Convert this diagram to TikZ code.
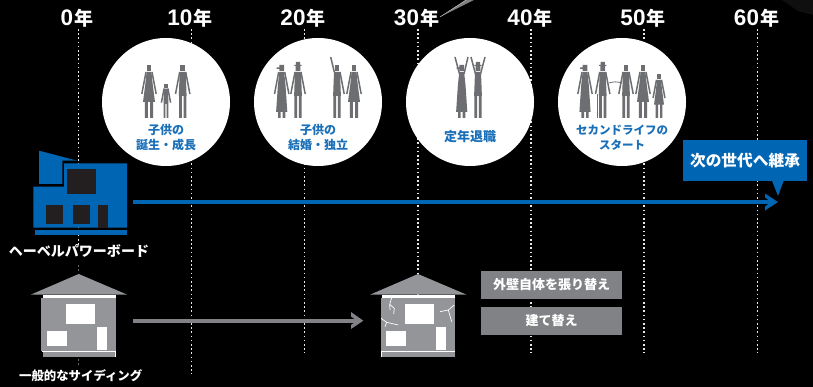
\documentclass[tikz,border=0pt]{standalone}
\usepackage{fontspec}
\setmainfont{Liberation Sans}
\newfontfamily\cjk{Noto Sans CJK JP}
\newfontfamily\lat{Liberation Sans}
\definecolor{figgray}{HTML}{6D6E71}
\definecolor{hblue}{HTML}{0066B3}
\definecolor{capblue}{HTML}{1A70B8}
\definecolor{boxgray}{HTML}{808285}
\definecolor{housegray}{HTML}{939598}
\definecolor{winddark}{HTML}{231F20}
\definecolor{dotwhite}{HTML}{E8E8E8}
\tikzset{
  yearlbl/.style={text=white,inner sep=0pt,anchor=center},
  timeline/.style={draw=dotwhite,line width=1.6pt,dash pattern=on 1.6pt off 2.6pt},
  lifecircle/.style={circle,fill=white,draw=none,minimum size=128pt,inner sep=0pt},
  caption/.style={text=capblue,inner sep=0pt,align=center,font=\cjk\bfseries\fontsize{12}{15.5}\selectfont},
  whitelbl/.style={text=white,inner sep=0pt,align=center,font=\cjk\bfseries\fontsize{13}{15}\selectfont},
  armline/.style={draw=figgray,line width=1.5pt},
  thinline/.style={draw=figgray,line width=0.8pt},
  crack/.style={draw=white,line width=0.7pt},
  pichead/.pic={\fill[figgray](-2.4,-53)rectangle(2.4,-47);},
  pichat/.pic={\fill[figgray](-3.6,-53)rectangle(3.6,-52)(-2.2,-56)rectangle(2.2,-53)(-2.4,-52)rectangle(2.4,-47);},
  picbrim/.pic={\fill[figgray](-2.4,-53)rectangle(2.4,-47)(-5,-50.5)rectangle(-2,-49);},
  picmale/.pic={\fill[figgray](-3,-46)--(3,-46)--(3.9,-22)--(-3.9,-22)--cycle
     (-3.6,-22)rectangle(-0.8,0)(0.8,-22)rectangle(3.6,0);},
  picfemale/.pic={\fill[figgray](-2.4,-46)--(2.4,-46)--(3.8,-33)--(6,-16)--(-6,-16)--(-3.8,-33)--cycle
     (-4.1,-16)rectangle(-1.2,0)(1.2,-16)rectangle(4.1,0);},
  piclongdress/.pic={\fill[figgray](-2.4,-46)--(2.4,-46)--(3.8,-33)--(5.6,-6)--(-5.6,-6)--(-3.8,-33)--cycle
     (-3.6,-6)rectangle(-1,0)(1,-6)rectangle(3.6,0);},
  picarms/.pic={\draw[armline](-3,-46)--(-7.2,-24)(3,-46)--(7.2,-24);},
}
\begin{document}
\begin{tikzpicture}[x=1pt,y=-1pt]
\useasboundingbox (0,0) rectangle (813,387);
\fill[black] (0,0) rectangle (813,387);
% faint texture top right and wedge
\fill[black!94!white] (782,0)--(813,0)--(813,15)--(798,11)--cycle;
\fill[boxgray] (440,17)--(466,0)--(474,0)--cycle;
\draw[black!25!white,line width=0.5pt] (440,17)--(466,0);
% timelines
\foreach \nm/\x/\yend in {t0/78.5/246,t10/191.5/374,t20/304.5/353,t30/418/353,t40/531/353,t50/644/353,t60/757.5/353}{
  \coordinate (\nm a) at (\x,29);
  \coordinate (\nm b) at (\x,\yend);
  \draw[timeline] (\nm a)--(\nm b);
}
\coordinate (t0c) at (78.5,265); \coordinate (t0d) at (78.5,272);
\coordinate (t0e) at (78.5,359); \coordinate (t0f) at (78.5,366);
\draw[timeline,draw=black!60!white] (t0c)--(t0d) (t0e)--(t0f);
% year labels
\foreach \nm/\x/\lab in {y0/77/0,y10/190/10,y20/303/20,y30/416.5/30,y40/530/40,y50/643/50,y60/756.5/60}{
  \node[yearlbl] (\nm) at (\x,18) {\lat\bfseries\fontsize{22.5}{22}\selectfont\lab\hspace{1pt}\cjk\bfseries\fontsize{19}{19}\selectfont 年};
}
% circles
\node[lifecircle] (c1) at (166,102) {};
\node[lifecircle] (c2) at (318,102) {};
\node[lifecircle] (c3) at (470,102) {};
\node[lifecircle] (c4) at (622,102) {};
% circle 1 figures
\pic at (149,118) {pichead}; \pic at (149,118) {picfemale}; \pic at (149,118) {picarms};
\pic at (182.7,118) {pichead}; \pic at (182.7,118) {picmale}; \pic at (182.7,118) {picarms};
\pic[transform shape,shift={(166,118)},scale=0.64] {pichead};
\pic[transform shape,shift={(166,118)},scale=0.64] {picmale};
\pic[transform shape,shift={(166,118)},scale=0.64] {picarms};
% circle 2 figures
\pic at (281.7,118) {picbrim}; \pic at (281.7,118) {piclongdress}; \pic at (281.7,118) {picarms};
\pic at (298,118) {pichat}; \pic at (298,118) {picmale}; \pic at (298,118) {picarms};
\pic at (337,118) {pichead}; \pic at (337,118) {picmale};
\draw[armline] (334.3,72)--(330.7,57) (340,72)--(344.2,94);
\pic at (354,118) {pichead}; \pic at (354,118) {picfemale}; \pic at (354,118) {picarms};
% circle 3 figures
\pic at (461.7,118) {picbrim}; \pic at (461.7,118) {piclongdress};
\draw[armline] (459.5,74)--(455,57) (464,74)--(468,57);
\pic at (478,118) {pichat}; \pic at (478,118) {picmale};
\draw[armline] (475.5,74)--(471,57) (480.5,74)--(485,57);
% circle 4 figures
\pic at (585,118) {picbrim}; \pic at (585,118) {piclongdress}; \pic at (585,118) {picarms};
\pic at (602.7,118) {pichat}; \pic at (602.7,118) {picmale}; \pic at (602.7,118) {picarms};
\draw[thinline] (597,94)--(597,118) (599.3,94)--(599.3,118);
\draw[thinline] (609,83) .. controls (614,81.5) and (617,81.5) .. (622,83);
\pic at (626,118) {pichead}; \pic at (626,118) {picmale}; \pic at (626,118) {picarms};
\pic at (643,118) {pichead}; \pic at (643,118) {picfemale}; \pic at (643,118) {picarms};
\pic[transform shape,shift={(659,118)},scale=0.83] {pichead};
\pic[transform shape,shift={(659,118)},scale=0.83] {picfemale};
\pic[transform shape,shift={(659,118)},scale=0.83] {picarms};
% captions
\node[caption] (cap1) at (166,137.5) {子供の\\誕生・成長};
\node[caption] (cap2) at (318,137.5) {子供の\\結婚・独立};
\node[caption,font=\cjk\bfseries\fontsize{13}{15.5}\selectfont] (cap3) at (470,137) {定年退職};
\node[caption,font=\cjk\bfseries\fontsize{11.5}{15}\selectfont] (cap4) at (622,137.5) {セカンドライフの\\スタート};
% building
\fill[hblue] (39,150.7)--(77.3,160.7)--(62.3,160.7)--(62.3,184)--(39,184)--cycle;
\fill[hblue] (33.3,186.7)--(64,186.7)--(64,163.3)--(127,163.3)--(127,227.7)--(33.3,227.7)--cycle;
\fill[winddark] (67,169) rectangle (96,193.7);
\fill[winddark] (46,205) rectangle (63,224);
\fill[winddark] (73,205) rectangle (90,224);
\fill[winddark] (98,205) rectangle (108,227.7);
\fill[hblue] (35,230) rectangle (127,235);
\node[whitelbl,font=\cjk\bfseries\fontsize{14}{15}\selectfont] (lblH) at (79,251) {ヘーベルパワーボード};
% blue arrow
\coordinate (barA) at (133,202);
\coordinate (barB) at (773,202);
\draw[hblue,line width=4pt] (barA)--(barB);
\fill[hblue] (765,193.5)--(778,202)--(765,210.5)--(765,206.5)--(771,202)--(765,197.5)--cycle;
% callout
\fill[hblue] (771.7,180)--(784,180)--(778,196)--cycle;
\node[fill=hblue,minimum width=124pt,minimum height=41pt,inner sep=0pt,text=white,font=\cjk\bfseries\fontsize{15.7}{18}\selectfont] (next) at (745,160.5) {次の世代へ継承};
% grey houses
\foreach \dx/\nm in {0/hA,339.3/hB}{
  \begin{scope}[shift={(\dx,0)}]
  \fill[housegray] (30.7,294.7)--(78.7,274)--(127.3,294.7)--cycle;
  \fill[white] (43,294.7) rectangle (116,298);
  \fill[housegray] (41.3,298) rectangle (116,350.7);
  \fill[white] (66,304) rectangle (95,324);
  \fill[white] (47,331) rectangle (67,346);
  \fill[white] (97,327) rectangle (107,350);
  \fill[white] (42,351.2) rectangle (116,352.2);
  \fill[housegray] (42.5,352.2) rectangle (115.5,357);
  \end{scope}
}
\fill[white] (115.3,351.2) rectangle (116,357);
\fill[white] (381.3,351.2) rectangle (382,357);
\fill[black] (454.8,352.2) rectangle (456,357);
% cracks
\draw[crack] (391.7,297.7)--(389.7,304.3)--(394.3,308.3)--(393.7,314) (389.7,304.3)--(390,310);
\draw[crack] (381,318.3)--(386.7,322.3)--(398.3,325) (386.7,322.3)--(385,326.7);
\draw[crack] (454.3,305)--(448.3,310)--(440,311.7) (448.3,310)--(451.7,321.7);
\node[whitelbl,font=\cjk\bfseries\fontsize{12.4}{15}\selectfont] (lblS) at (80.7,376) {一般的なサイディング};
% grey arrow
\coordinate (garA) at (133,320.7);
\coordinate (garB) at (358,320.7);
\draw[boxgray,line width=4pt] (garA)--(garB);
\fill[boxgray] (351,312)--(363.3,320.7)--(351,329)--(351,325)--(357,320.7)--(351,316.5)--cycle;
% grey label boxes
\node[fill=boxgray,minimum width=141pt,minimum height=28pt,inner sep=0pt,whitelbl] (b1) at (551.5,285) {外壁自体を張り替え};
\node[fill=boxgray,minimum width=141pt,minimum height=27.7pt,inner sep=0pt,whitelbl] (b2) at (551.5,320.8) {建て替え};
\end{tikzpicture}
\end{document}
